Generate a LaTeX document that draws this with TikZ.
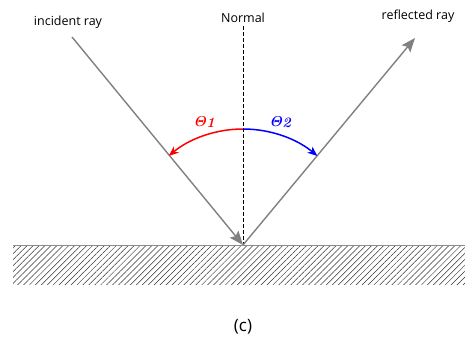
\documentclass[tikz,border=0pt]{standalone}
\usepackage[no-math]{fontspec}
\setmainfont{Open Sans}
\usetikzlibrary{arrows.meta,patterns.meta}
\tikzset{
  ray/.style={draw=black!50,line width=1.4pt,-{Stealth[length=14pt,width=11pt,inset=2.5pt]}},
  normal/.style={draw=black,line width=0.7pt,dash pattern=on 4pt off 2pt},
  surface/.style={draw=black!45,line width=0.8pt},
  hatch/.style={pattern={Lines[angle=45,distance=4.2pt,line width=0.5pt]},pattern color=black!80},
  anglearrow/.style={line width=1.5pt,-{Stealth[length=10pt,width=8pt]}},
  label/.style={font=\fontsize{12.5}{14}\selectfont,inner sep=1pt},
  anglelabel/.style={font=\fontsize{14}{16}\selectfont\boldmath,inner sep=1pt}
}
\newcommand{\angsym}[2]{\textcolor{#1}{$\mathit{\Theta}\kern-1pt\raisebox{-1.5pt}{$\mathit{#2}$}$}}

\begin{document}
\begin{tikzpicture}[x=1pt,y=-1pt]
  \useasboundingbox (0,0) rectangle (465,350);

  \coordinate (O) at (243,245);
  \coordinate (src) at (72,37);
  \coordinate (tip) at (415,38);
  \coordinate (ntop) at (243,26);
  \coordinate (gl) at (13,245);
  \coordinate (gr) at (465,245);
  \coordinate (gb) at (465,284);

  % ground
  \fill[hatch] (gl) rectangle (gb);
  \draw[surface] (gl) -- (gr);

  \draw[normal] (ntop) -- (O);
  \draw[ray] (src) -- (O);
  \draw[ray] (O) -- (tip);

  % angles
  \draw[anglearrow,red] ([shift={(-90:116)}]O) arc[start angle=-90,end angle=-129.8,radius=116];
  \draw[anglearrow,blue] ([shift={(-90:116)}]O) arc[start angle=-90,end angle=-50.1,radius=116];

  \node[label] (inc) at (68,22) {incident ray};
  \node[label] (nrm) at (243,18) {Normal};
  \node[label] (refl) at (418,16) {reflected ray};
  \node[anglelabel] (th1) at (205,122) {\angsym{red}{1}};
  \node[anglelabel] (th2) at (281,122) {\angsym{blue}{2}};
  \node[font=\fontsize{17}{20}\selectfont] (cap) at (243,327) {(c)};
\end{tikzpicture}
\end{document}
